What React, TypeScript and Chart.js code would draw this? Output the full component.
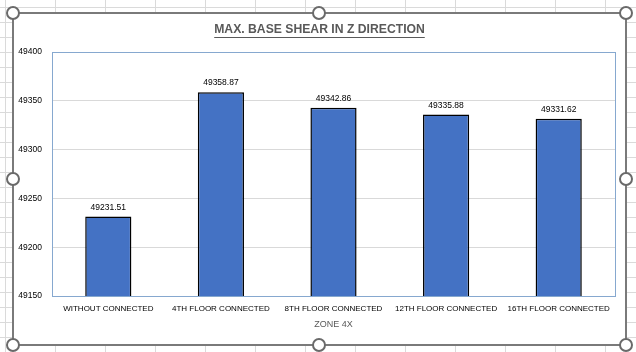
import React, { useEffect, useRef } from 'react';
import { Chart, registerables } from 'chart.js';

Chart.register(...registerables);

const categories = [
  'WITHOUT CONNECTED',
  '4TH FLOOR CONNECTED',
  '8TH FLOOR CONNECTED',
  '12TH FLOOR CONNECTED',
  '16TH FLOOR CONNECTED',
];
const values = [49231.51, 49358.87, 49342.86, 49335.88, 49331.62];
const yMin = 49150;
const yMax = 49400;
const yStep = 50;
const chartTitle = 'MAX. BASE SHEAR IN Z DIRECTION';
const xAxisTitle = 'ZONE 4X';

const FONT = "'Liberation Sans', Arial, sans-serif";

const decorPlugin = {
  id: 'decor',
  beforeDatasetsDraw(chart: any) {
    const { ctx, chartArea } = chart;
    ctx.save();
    ctx.strokeStyle = '#86a8cf';
    ctx.lineWidth = 1;
    ctx.strokeRect(
      Math.round(chartArea.left) + 0.5,
      Math.round(chartArea.top) + 0.5,
      Math.round(chartArea.right - chartArea.left),
      Math.round(chartArea.bottom - chartArea.top)
    );
    ctx.restore();
  },
  afterDatasetsDraw(chart: any) {
    const { ctx } = chart;
    const meta = chart.getDatasetMeta(0);
    ctx.save();
    ctx.font = `8.5px ${FONT}`;
    ctx.fillStyle = '#000000';
    ctx.textAlign = 'center';
    ctx.textBaseline = 'bottom';
    meta.data.forEach((bar: any, i: number) => {
      const v = chart.data.datasets[0].data[i] as number;
      ctx.fillText(v.toFixed(2), bar.x, bar.y - 5);
    });
    ctx.restore();
  },
  afterDraw(chart: any) {
    const { ctx } = chart;
    ctx.save();
    ctx.font = `bold 12.2px ${FONT}`;
    ctx.fillStyle = '#595959';
    ctx.textAlign = 'center';
    ctx.textBaseline = 'middle';
    const cx = chart.width / 2;
    const cy = 16;
    ctx.fillText(chartTitle, cx, cy);
    const w = ctx.measureText(chartTitle).width;
    ctx.strokeStyle = '#595959';
    ctx.lineWidth = 1;
    ctx.beginPath();
    ctx.moveTo(cx - w / 2, 23.5);
    ctx.lineTo(cx + w / 2, 23.5);
    ctx.stroke();
    ctx.restore();
  },
};

const handlePositions = [
  [13, 13], [319, 13], [626, 13],
  [13, 179], [626, 179],
  [13, 345], [319, 345], [626, 345],
];

export default function App() {
  const canvasRef = useRef<HTMLCanvasElement | null>(null);

  useEffect(() => {
    if (!canvasRef.current) return;
    const chart = new Chart(canvasRef.current, {
      type: 'bar',
      data: {
        labels: categories,
        datasets: [
          {
            data: values,
            backgroundColor: '#4472c4',
            borderColor: '#000000',
            borderWidth: 1.5,
            barPercentage: 0.41,
            categoryPercentage: 1,
          },
        ],
      },
      options: {
        animation: false,
        responsive: false,
        devicePixelRatio: 1,
        layout: { padding: { top: 38, right: 10, left: 0, bottom: 0 } },
        plugins: {
          legend: { display: false },
          title: { display: false },
          tooltip: { enabled: false },
        },
        scales: {
          x: {
            grid: { display: false, drawTicks: false },
            border: { display: false },
            ticks: {
              color: '#000000',
              font: { family: FONT, size: 8 },
              padding: 8,
              maxRotation: 0,
              autoSkip: false,
            },
            title: {
              display: true,
              text: xAxisTitle,
              color: '#595959',
              font: { family: FONT, size: 9 },
              padding: { top: 0, bottom: 14 },
            },
            afterFit(scale: any) {
              scale.height = 48;
            },
          },
          y: {
            min: yMin,
            max: yMax,
            grid: { color: '#d9d9d9', drawTicks: false },
            border: { display: false },
            ticks: {
              stepSize: yStep,
              color: '#000000',
              font: { family: FONT, size: 8.5 },
              padding: 10,
              callback: (v: any) => String(v),
            },
            afterFit(scale: any) {
              scale.width = 38;
            },
          },
        },
      },
      plugins: [decorPlugin],
    });
    return () => chart.destroy();
  }, []);

  return (
    <div
      style={{
        position: 'fixed',
        left: 0,
        top: 0,
        width: 636,
        height: 352,
        overflow: 'hidden',
        backgroundColor: '#ffffff',
        backgroundImage:
          'linear-gradient(to right, #dadada 1px, transparent 1px), linear-gradient(to bottom, #dadada 1px, transparent 1px)',
        backgroundSize: '50px 15px',
        backgroundPosition: '5px 7px',
      }}
    >
      <div
        style={{
          position: 'absolute',
          left: 12,
          top: 12,
          width: 611,
          height: 330,
          border: '2px solid #7a7a7a',
          background: '#ffffff',
        }}
      >
        <canvas ref={canvasRef} width={611} height={330} style={{ display: 'block' }} />
      </div>
      {handlePositions.map(([x, y], i) => (
        <div
          key={i}
          style={{
            position: 'absolute',
            left: x - 7,
            top: y - 7,
            width: 10,
            height: 10,
            borderRadius: '50%',
            border: '2px solid #6a6a6a',
            background: '#ffffff',
          }}
        />
      ))}
    </div>
  );
}
